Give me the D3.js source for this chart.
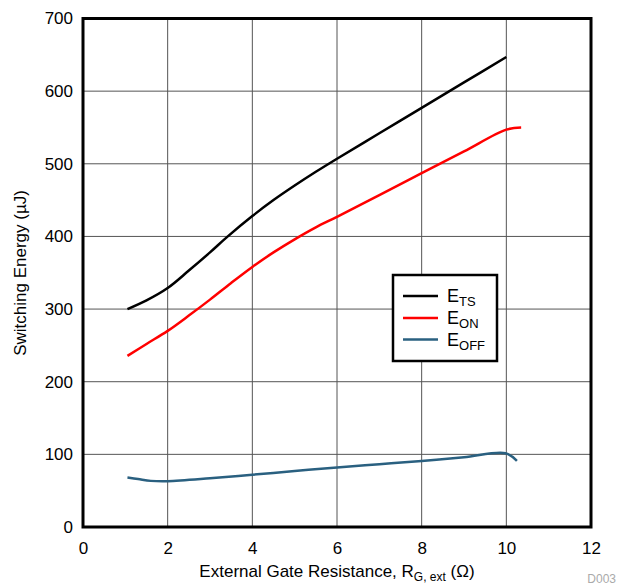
<!DOCTYPE html>
<html><head><meta charset="utf-8">
<script src="https://cdn.jsdelivr.net/npm/d3@7"></script>
<style>body{margin:0;background:#fff;} text{font-family:"Liberation Sans",Arial,sans-serif;}</style>
</head><body>
<svg id="c" width="619" height="586"></svg>
<script>
const xTicks = [0,2,4,6,8,10,12];
const yTicks = [0,100,200,300,400,500,600,700];
const etsX = [1.05,1.5,2,2.5,3,3.4,4,4.5,5,5.5,6,7,8,9,10];
const etsY = [300,312,329,353,378,399,428,450,470,489,507,542,577,612,647];
const eonX = [1.05,1.5,2,2.5,3,3.5,4,4.5,5,5.5,6,7,8,9,10,10.35];
const eonY = [235.5,252,270,291,313,336,358,378,396,412.5,427,457,487,517,547,550];
const eoffX = [1.05,1.3,1.6,2,3,4,5,6,7,8,9,9.98,10.25];
const eoffY = [68,66,63.5,63,67,72,77,82,86.5,91,96,101.5,91];
const seriesNames = [["E","TS"],["E","ON"],["E","OFF"]];
const colors = ["#000000","#ff0000","#2a6080"];

const svg = d3.select("#c");
const L=83, R=591, T=18.5, B=527;
const x = d3.scaleLinear().domain([0,12]).range([L,R]);
const y = d3.scaleLinear().domain([0,700]).range([B,T]);

// grid
svg.append("g").selectAll("line").data(xTicks.slice(1,-1)).join("line")
  .attr("x1",d=>x(d)).attr("x2",d=>x(d)).attr("y1",T).attr("y2",B)
  .attr("stroke","#555").attr("stroke-width",1);
svg.append("g").selectAll("line").data(yTicks.slice(1,-1)).join("line")
  .attr("y1",d=>y(d)).attr("y2",d=>y(d)).attr("x1",L).attr("x2",R)
  .attr("stroke","#555").attr("stroke-width",1);

// axes (labels only)
const xa = svg.append("g").attr("transform",`translate(0,${B})`)
  .call(d3.axisBottom(x).tickValues(xTicks).tickSize(0).tickPadding(15));
const ya = svg.append("g").attr("transform",`translate(${L},0)`)
  .call(d3.axisLeft(y).tickValues(yTicks).tickSize(0).tickPadding(10));
[xa,ya].forEach(a=>{a.select(".domain").remove();
  a.selectAll("text").attr("font-size",17).attr("fill","#000").attr("font-family","Liberation Sans, Arial, sans-serif");});

// lines
const line = d3.line().x(d=>x(d[0])).y(d=>y(d[1])).curve(d3.curveCatmullRom.alpha(0.5));
const data = [d3.zip(etsX,etsY), d3.zip(eonX,eonY), d3.zip(eoffX,eoffY)];
data.forEach((d,i)=>{
  svg.append("path").datum(d).attr("d",line).attr("fill","none")
    .attr("stroke",colors[i]).attr("stroke-width",2.5);
});

// frame
svg.append("rect").attr("x",L).attr("y",T).attr("width",R-L).attr("height",B-T)
  .attr("fill","none").attr("stroke","#000").attr("stroke-width",3);

// legend
const lg = svg.append("g");
lg.append("rect").attr("x",393).attr("y",275).attr("width",104).attr("height",86)
  .attr("fill","#fff").attr("stroke","#000").attr("stroke-width",2.5);
const rows=[296,318,339.5];
seriesNames.forEach((n,i)=>{
  lg.append("line").attr("x1",403).attr("x2",438).attr("y1",rows[i]).attr("y2",rows[i])
    .attr("stroke",colors[i]).attr("stroke-width",2.5);
  const t = lg.append("text").attr("x",447).attr("y",rows[i]+6).attr("font-size",18);
  t.append("tspan").text(n[0]);
  t.append("tspan").attr("dy",4).attr("font-size",13).text(n[1]);
});

// titles
const xt = svg.append("text").attr("x",337).attr("y",577).attr("text-anchor","middle").attr("font-size",17);
xt.append("tspan").text("External Gate Resistance, R");
xt.append("tspan").attr("dy",4).attr("font-size",12).text("G, ext");
xt.append("tspan").attr("dy",-4).text(" (Ω)");
svg.append("text").attr("transform","translate(26,273) rotate(-90)").attr("text-anchor","middle")
  .attr("font-size",17).text("Switching Energy (µJ)");
svg.append("text").attr("x",616).attr("y",583).attr("text-anchor","end").attr("font-size",12)
  .attr("fill","#aaa").text("D003");
</script>
</body></html>
